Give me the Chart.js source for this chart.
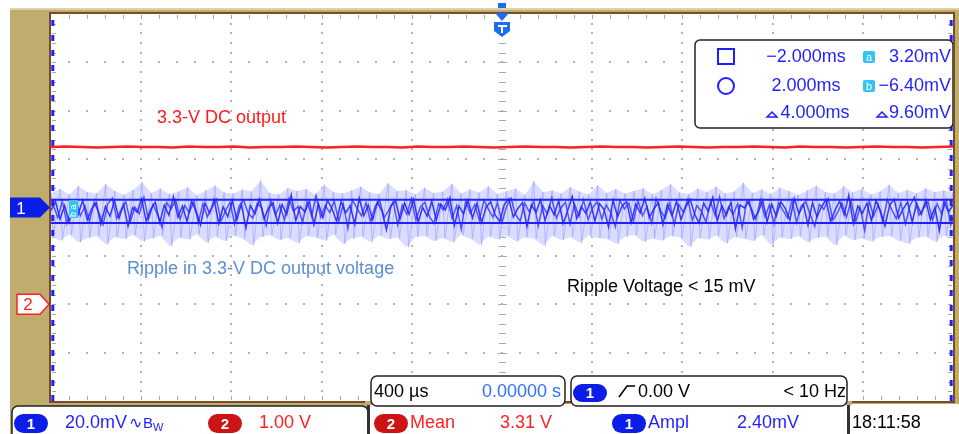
<!doctype html>
<html lang="en">
<head>
<meta charset="utf-8">
<title>Ripple in 3.3-V DC output</title>
<style>
  html, body { margin: 0; padding: 0; background: #fff; }
  #wrap { position: relative; width: 959px; height: 434px; }
</style>
</head>
<body>
<div id="wrap"><canvas id="scope"></canvas></div>
<script src="https://cdn.jsdelivr.net/npm/chart.js"></script>
<script>
// screen: 10 div x 400 us, ch1 20 mV/div, ch2 1 V/div (ground 2 div below centre)
const X_MIN = -2000, X_MAX = 2000;

// ch1 ripple, two sweeps, mV
const rippleMv = [
  -1.2, 2.4, -4.8, 0.8, -6.0, 1.6, -2.8, 3.0, -5.2, -0.4, 2.0, -6.8, 0.4, -3.6, 2.8, -4.4, 1.2, -7.6, 0.0, -2.0,
  3.6, -5.6, -0.8, 2.2, -6.2, 1.0, -3.2, 4.4, -4.0, 0.6, -5.8, 2.6, -1.6, -7.2, 1.8, -2.4, 3.2, -6.6, 0.2, -3.8,
  2.8, -5.0, 1.4, -8.4, 0.8, -2.6, 3.4, -4.6, -0.2, 2.0, -6.4, 1.2, -3.0, 5.2, -5.4, 0.4, -1.8, 2.6, -7.0, 1.6,
  -4.2, 3.0, -0.6, -5.6, 2.4, -2.2, 0.8, -6.8, 3.8, -3.4, 1.0, -5.0, 2.2, -1.4, -9.2, 0.6, 2.8, -4.8, 1.8, -2.8,
  3.4, -6.0, 0.0, -3.6, 2.6, -5.2, 1.4, -1.0, 4.0, -7.4, 0.6, -2.6, 3.0, -4.4, 1.8, -6.2, 0.2, 2.4, -3.2, -5.8,
  1.2, 3.6, -4.0, -0.4, 2.0, -7.8, 1.0, -2.0, 3.2, -5.4, 0.8, -3.0, 2.8, -6.6, -1.2, 4.6, -4.6, 0.4, -2.4, 2.2,
  -5.6, 1.6, -0.8, -8.0, 3.0, -3.8, 0.6, 2.4, -6.2, 1.4, -2.2, 3.8, -4.2, -0.6, 2.0, -7.0, 1.2, -3.4, 2.6, -5.0,
  0.2, 3.4, -2.8, -6.4, 1.8, -1.6, 4.2, -5.6, 0.8, -3.2, 2.2, -8.8, 1.0, -0.2, 2.8, -4.8, -2.0, 3.0, -6.0, 1.4,
  -3.6, 2.4, -0.4, -5.2, 3.6, -2.6, 1.2, -7.2, 2.0, -4.0, 0.4, 3.2, -5.8, -1.0, 2.6, -3.0, 5.0, -6.6, 0.6, -2.4,
  1.8, -5.4, 2.8, -1.4, -7.6, 0.8, 3.4, -4.4, -0.6, 2.2, -6.0, 1.6, -2.8, 3.0, -5.0, 0.0, -9.6, 2.4, -1.8, 1.0
];
const ripple2Mv = [
  1.0, -4.2, 2.6, -6.6, -0.2, 3.0, -3.4, 0.6, -5.8, 2.2, -1.8, -7.0, 1.4, 3.8, -4.6, -0.8, 2.4, -6.0, 0.2, -2.6,
  4.2, -5.0, 1.2, -3.0, -8.2, 2.0, -0.6, 3.2, -4.8, 0.8, -2.2, 2.6, -6.4, 1.6, -3.8, 0.0, 3.4, -5.6, -1.4, 2.2,
  -6.8, 0.6, 3.0, -2.4, -4.4, 1.8, -0.2, -7.4, 2.8, -3.2, 1.0, -5.2, 3.6, -1.6, 0.4, -6.2, 2.4, -3.6, 4.8, -4.0,
  0.8, -2.0, 2.6, -5.8, 1.4, -8.6, 3.2, -0.4, -3.4, 2.0, -6.0, 0.6, 3.0, -4.2, -1.2, 2.4, -7.2, 1.0, -2.8, 3.6,
  -5.2, 0.2, 2.2, -3.8, -6.6, 1.6, -1.0, 3.4, -4.6, 0.8, -9.0, 2.8, -2.4, 1.2, -5.4, 3.0, -0.8, -4.0, 2.0, -6.2,
  0.4, 3.8, -3.0, -5.6, 1.8, -1.8, 2.6, -7.6, 0.6, -2.6, 4.0, -4.4, -0.2, 2.2, -6.8, 1.4, -3.6, 3.2, -5.0, 0.0,
  2.4, -4.8, 1.0, -2.2, -8.0, 3.0, -0.6, 1.8, -5.6, 2.8, -3.4, 0.4, -6.4, 3.6, -1.4, -4.2, 2.0, -7.0, 1.2, -2.0,
  3.4, -5.4, 0.8, -1.6, -6.0, 2.4, -3.2, 4.4, -4.6, 0.2, -2.8, 1.6, -8.4, 2.6, -0.4, -5.0, 3.2, -3.8, 1.0, -6.6,
  2.0, -1.2, -4.4, 3.0, -6.2, 0.6, 2.4, -3.0, -7.8, 1.4, -0.8, 3.6, -5.2, -2.2, 1.8, -4.0, 2.8, -6.0, 0.2, -9.4,
  2.6, -3.6, 1.2, -5.8, 3.2, -1.0, -4.6, 2.0, -6.8, 0.8, 4.2, -3.2, -0.4, 2.4, -5.4, 1.6, -2.6, 3.0, -7.2, -1.2
];

// ch1 persistence envelope (pale fuzz), mV
const fuzzHighMv = [
  6.0, 7.6, 5.4, 8.8, 6.4, 5.8, 9.6, 6.8, 5.2, 7.2, 10.4, 6.0, 7.8, 5.6, 6.6, 8.4, 5.0, 7.0, 9.0, 6.2,
  5.8, 7.4, 6.6, 11.2, 6.0, 5.4, 8.0, 6.8, 7.6, 5.2, 9.4, 6.4, 5.8, 7.0, 8.6, 6.2, 5.6, 10.0, 6.8, 7.2,
  5.4, 8.2, 6.0, 6.6, 9.8, 5.8, 7.4, 6.2, 8.8, 5.6, 6.8, 7.8, 5.2, 10.8, 6.4, 7.0, 5.8, 8.4, 6.6, 5.4,
  9.2, 6.0, 7.6, 5.8, 6.8, 8.0, 5.4, 7.2, 9.6, 6.2, 5.6, 7.8, 6.4, 8.6, 5.8, 6.6, 10.2, 6.0, 7.4, 5.6,
  8.2, 6.8, 5.2, 7.0, 9.0, 6.4, 5.8, 8.8, 6.2, 7.6, 5.4, 6.6, 9.4, 6.0, 7.2, 5.8, 8.0, 6.4, 7.0, 6.2
];
const fuzzLowMv = [
  -12.0, -13.6, -11.2, -14.4, -12.6, -11.8, -15.2, -12.2, -13.0, -11.4, -14.0, -12.8, -11.6, -16.0, -12.4, -13.2, -11.0, -14.6, -12.0, -13.8,
  -11.6, -12.8, -15.6, -12.2, -11.4, -13.4, -12.6, -14.8, -11.8, -12.4, -13.6, -11.2, -15.0, -12.8, -12.0, -14.2, -11.6, -13.0, -12.4, -16.4,
  -12.2, -11.8, -13.8, -12.6, -14.4, -11.4, -12.8, -15.4, -12.0, -13.2, -11.6, -14.0, -12.4, -12.8, -15.8, -11.8, -13.4, -12.2, -14.6, -11.6,
  -12.6, -13.0, -15.0, -12.0, -11.4, -14.2, -12.8, -13.6, -11.8, -12.4, -16.2, -12.6, -13.2, -11.6, -14.8, -12.2, -12.8, -13.8, -11.4, -15.4,
  -12.4, -13.0, -11.8, -14.4, -12.6, -12.0, -15.6, -11.6, -13.4, -12.8, -14.0, -12.2, -11.8, -13.6, -15.0, -12.4, -12.0, -14.2, -11.6, -13.0
];

// ch2 DC output, V
const dcOutV = [
  3.25, 3.26, 3.25, 3.24, 3.25, 3.26, 3.25, 3.25, 3.24, 3.26, 3.25, 3.25, 3.26, 3.24, 3.25, 3.25, 3.26, 3.25, 3.24, 3.25,
  3.26, 3.25, 3.25, 3.24, 3.26, 3.25, 3.25, 3.26, 3.25, 3.24, 3.25, 3.26, 3.25, 3.25, 3.24, 3.25, 3.26, 3.25, 3.25, 3.24,
  3.25, 3.26, 3.25, 3.24, 3.25, 3.25, 3.26, 3.25, 3.24, 3.26, 3.25, 3.25, 3.24, 3.25, 3.26, 3.25, 3.25, 3.24, 3.25, 3.26
];

// cursors
const cursorTimesUs = [-2000, 2000];
const cursorLevelsMv = [3.2, -6.4];
const cursorRows = [
  ['\u22122.000ms', 'a', '3.20mV'],
  ['2.000ms', 'b', '\u22126.40mV'],
  ['4.000ms', '', '9.60mV']
];

const TAN = '#bfac6f', FRAME = '#7a4b27', DOT = '#b4b4b4';
const CH1 = '#1f1fff', CH2 = '#ff2020';
const UI = '"Liberation Sans", Arial, sans-serif';

function sampleTimes(n, shift) {
  const step = (X_MAX - X_MIN) / (n - 1);
  return Array.from({ length: n }, (_, i) => X_MIN + (i + (shift || 0)) * step);
}
function pts(vals, shift) {
  const ts = sampleTimes(vals.length, shift);
  return vals.map((v, i) => ({ x: ts[i], y: v }));
}
// persistence spikes: each column drawn from its high to its low extreme
function spikes(hi, lo) {
  const ts = sampleTimes(hi.length);
  const out = [];
  hi.forEach((h, i) => { out.push({ x: ts[i], y: h }); out.push({ x: ts[i] + 10, y: lo[i] }); });
  return out;
}

function rrect(ctx, x, y, w, h, r) {
  ctx.beginPath();
  ctx.moveTo(x + r, y);
  ctx.arcTo(x + w, y, x + w, y + h, r);
  ctx.arcTo(x + w, y + h, x, y + h, r);
  ctx.arcTo(x, y + h, x, y, r);
  ctx.arcTo(x, y, x + w, y, r);
  ctx.closePath();
}
function pill(ctx, x, y, w, h, fill, label) {
  rrect(ctx, x, y, w, h, h / 2);
  ctx.fillStyle = fill;
  ctx.fill();
  ctx.fillStyle = '#fff';
  ctx.font = 'bold 15px ' + UI;
  ctx.textAlign = 'center';
  ctx.fillText(label, x + w / 2, y + h - 4);
  ctx.textAlign = 'left';
}
function txt(ctx, s, x, y, color, align, size) {
  ctx.font = (size || 18) + 'px ' + UI;
  ctx.fillStyle = color;
  ctx.textAlign = align || 'left';
  ctx.fillText(s, x, y);
  ctx.textAlign = 'left';
}

const backdrop = {
  id: 'backdrop',
  beforeDraw(chart) {
    const { ctx, chartArea: a, width, height } = chart;
    ctx.save();
    ctx.fillStyle = '#fff';
    ctx.fillRect(0, 0, width, height);
    ctx.fillStyle = TAN;
    ctx.fillRect(10, 8, width - 10, height - 8);
    ctx.fillStyle = '#ddd2a6';
    ctx.fillRect(10, 8, width - 10, 2);
    ctx.fillStyle = '#fff';
    ctx.fillRect(a.left, a.top, a.right - a.left, a.bottom - a.top);
    ctx.restore();
  }
};

const graticule = {
  id: 'graticule',
  beforeDatasetsDraw(chart) {
    const { ctx, chartArea: a } = chart;
    const xs = chart.scales.x, ys = chart.scales.y;
    const R = Math.round;
    ctx.save();
    ctx.fillStyle = DOT;
    for (let t = -1600; t <= 1600; t += 400) {
      if (t === 0) continue;
      const px = R(xs.getPixelForValue(t));
      for (let v = -76; v <= 76; v += 4) ctx.fillRect(px - 1, R(ys.getPixelForValue(v)) - 1, 2, 2);
    }
    for (let v = -60; v <= 60; v += 20) {
      if (v === 0) continue;
      const py = R(ys.getPixelForValue(v));
      for (let t = -1920; t <= 1920; t += 80) ctx.fillRect(R(xs.getPixelForValue(t)) - 1, py - 1, 2, 2);
    }
    // centre cross and frame ticks
    ctx.fillStyle = '#a8a8a8';
    const cx = R(xs.getPixelForValue(0)), cy = R(ys.getPixelForValue(0));
    for (let v = -76; v <= 76; v += 4) {
      const py = R(ys.getPixelForValue(v));
      const major = v % 20 === 0;
      ctx.fillRect(cx - (major ? 4 : 3), py, major ? 9 : 7, 1);
      ctx.fillRect(a.left + 1, py, 4, 1);
      ctx.fillRect(a.right - 5, py, 4, 1);
    }
    for (let t = -1920; t <= 1920; t += 80) {
      const px = R(xs.getPixelForValue(t));
      const major = t % 400 === 0;
      ctx.fillRect(px, cy - (major ? 4 : 3), 1, major ? 9 : 7);
      ctx.fillRect(px, a.top + 1, 1, 4);
      ctx.fillRect(px, a.bottom - 5, 1, 4);
    }
    ctx.restore();
  }
};

const overlay = {
  id: 'overlay',
  afterDraw(chart) {
    const { ctx, chartArea: a, width, height } = chart;
    const xs = chart.scales.x, ys = chart.scales.y, y2 = chart.scales.y2;
    ctx.save();

    // cursor readout box
    rrect(ctx, 695, 40, 258, 88, 5);
    ctx.fillStyle = '#fff';
    ctx.fill();
    ctx.strokeStyle = '#222';
    ctx.lineWidth = 1.5;
    ctx.stroke();
    ctx.strokeStyle = CH1;
    ctx.lineWidth = 2;
    ctx.strokeRect(718, 49, 16, 15);
    ctx.beginPath();
    ctx.arc(726, 86, 8, 0, Math.PI * 2);
    ctx.stroke();
    const rowY = [62, 91, 118];
    cursorRows.forEach((r, i) => {
      txt(ctx, r[0], i === 2 ? 815 : 806, rowY[i], CH1, 'center');
      txt(ctx, r[2], 951, rowY[i], CH1, 'right');
      if (r[1]) {
        rrect(ctx, 863, rowY[i] - 11, 12, 12, 2);
        ctx.fillStyle = '#35c3f2';
        ctx.fill();
        txt(ctx, r[1], 869, rowY[i] - 1, '#fff', 'center', 11);
      }
    });
    ctx.lineWidth = 1.5;
    ctx.strokeStyle = CH1;
    [[767, 117], [877, 117]].forEach(([dx, dy]) => {
      ctx.beginPath();
      ctx.moveTo(dx, dy);
      ctx.lineTo(dx + 5, dy - 5);
      ctx.lineTo(dx + 10, dy);
      ctx.closePath();
      ctx.stroke();
    });

    // frame
    ctx.strokeStyle = FRAME;
    ctx.lineWidth = 2;
    ctx.strokeRect(a.left - 1, a.top - 1, a.right - a.left + 2, a.bottom - a.top + 2);

    // channel ground markers
    const g1 = ys.getPixelForValue(0), g2 = y2.getPixelForValue(0);
    ctx.beginPath();
    ctx.moveTo(10, g1 - 10); ctx.lineTo(40, g1 - 10); ctx.lineTo(50, g1); ctx.lineTo(40, g1 + 10); ctx.lineTo(10, g1 + 10);
    ctx.closePath();
    ctx.fillStyle = '#0c1de8';
    ctx.fill();
    txt(ctx, '1', 21, g1 + 6, '#fff', 'center', 17);
    ctx.beginPath();
    ctx.moveTo(17, g2 - 10); ctx.lineTo(40, g2 - 10); ctx.lineTo(49, g2); ctx.lineTo(40, g2 + 10); ctx.lineTo(17, g2 + 10);
    ctx.closePath();
    ctx.fillStyle = '#fff';
    ctx.fill();
    ctx.strokeStyle = CH2;
    ctx.lineWidth = 1.5;
    ctx.stroke();
    txt(ctx, '2', 28, g2 + 6, CH2, 'center', 17);

    // cursor a/b tag at left
    ctx.fillStyle = '#35c3f2';
    ctx.fillRect(69, 200, 9, 18);
    ctx.save();
    ctx.translate(77, 218);
    ctx.rotate(-Math.PI / 2);
    txt(ctx, 'b a', 1, -1, '#fff', 'left', 9);
    ctx.restore();

    // trigger marker
    const tx = xs.getPixelForValue(0);
    ctx.fillStyle = '#1f6cf0';
    ctx.fillRect(tx - 4, 3, 8, 5);
    ctx.beginPath();
    ctx.moveTo(tx - 7, 13); ctx.lineTo(tx + 7, 13); ctx.lineTo(tx, 21);
    ctx.closePath();
    ctx.fill();
    ctx.beginPath();
    ctx.moveTo(tx - 8, 22); ctx.lineTo(tx + 8, 22); ctx.lineTo(tx + 8, 31); ctx.lineTo(tx, 37); ctx.lineTo(tx - 8, 31);
    ctx.closePath();
    ctx.fill();
    ctx.fillStyle = '#fff';
    ctx.fillRect(tx - 4, 25, 9, 2);
    ctx.fillRect(tx - 1, 25, 2, 8);

    // annotations
    txt(ctx, '3.3-V DC output', 157, 123, '#ff1a1a');
    txt(ctx, 'Ripple in 3.3-V DC output voltage', 127, 274, '#5b8ed6');
    txt(ctx, 'Ripple Voltage < 15 mV', 567, 292, '#000');

    // status line
    ctx.fillStyle = '#fff';
    ctx.fillRect(369, 404, width - 369, height - 404);
    rrect(ctx, 12, 406, 356, 40, 6);
    ctx.fill();
    ctx.strokeStyle = '#222';
    ctx.lineWidth = 1.5;
    ctx.stroke();
    ctx.fillStyle = '#333';
    ctx.fillRect(367, 403, 3, 31);
    ctx.fillRect(847, 403, 3, 31);
    ctx.fillStyle = TAN;
    ctx.fillRect(365, 401, 7, 4);
    ctx.fillRect(845, 401, 7, 4);

    // timebase and trigger boxes
    [[371, 194], [571, 276]].forEach(([bx, bw]) => {
      rrect(ctx, bx, 376, bw, 30, 6);
      ctx.fillStyle = '#fff';
      ctx.fill();
      ctx.strokeStyle = '#222';
      ctx.lineWidth = 1.5;
      ctx.stroke();
    });
    txt(ctx, '400 \u00b5s', 374, 397, '#000');
    txt(ctx, '0.00000 s', 561, 397, '#2f70ff', 'right');
    pill(ctx, 573, 384, 34, 18, '#0c1de8', '1');
    ctx.strokeStyle = '#000';
    ctx.lineWidth = 1.6;
    ctx.beginPath();
    ctx.moveTo(619, 397); ctx.lineTo(627, 386); ctx.lineTo(635, 386);
    ctx.stroke();
    txt(ctx, '0.00 V', 638, 397, '#000');
    txt(ctx, '< 10 Hz', 846, 397, '#000', 'right');

    const sy = 428;
    pill(ctx, 14, 414, 34, 19, '#0c1de8', '1');
    ctx.font = '18px ' + UI;
    let cxp = 65;
    txt(ctx, '20.0mV', cxp, sy, CH1);
    cxp += ctx.measureText('20.0mV').width + 2;
    txt(ctx, '\u223f', cxp, sy, CH1, 'left', 16);
    ctx.font = '16px ' + UI;
    cxp += ctx.measureText('\u223f').width + 1;
    txt(ctx, 'B', cxp, sy, CH1, 'left', 15);
    ctx.font = '15px ' + UI;
    cxp += ctx.measureText('B').width;
    txt(ctx, 'W', cxp, sy + 3, CH1, 'left', 11);
    pill(ctx, 208, 414, 34, 19, '#cc1414', '2');
    txt(ctx, '1.00 V', 259, sy, CH2);

    pill(ctx, 374, 414, 34, 19, '#cc1414', '2');
    txt(ctx, 'Mean', 410, sy, CH2);
    txt(ctx, '3.31 V', 500, sy, CH2);
    pill(ctx, 612, 414, 34, 19, '#0c1de8', '1');
    txt(ctx, 'Ampl', 648, sy, CH1);
    txt(ctx, '2.40mV', 737, sy, CH1);
    txt(ctx, '18:11:58', 852, sy, '#000');

    ctx.restore();
  }
};

const flat = (v) => [{ x: X_MIN, y: v }, { x: X_MAX, y: v }];
const vert = (t) => [{ x: t, y: -80 }, { x: t, y: 80 }];

new Chart(document.getElementById('scope'), {
  type: 'line',
  data: {
    datasets: [
      { label: 'CH2', data: pts(dcOutV), yAxisID: 'y2', borderColor: CH2, borderWidth: 2.5, order: 0 },
      { label: 'cursor a', data: flat(cursorLevelsMv[0]), borderColor: CH1, borderWidth: 2, order: 1 },
      { label: 'cursor b', data: flat(cursorLevelsMv[1]), borderColor: CH1, borderWidth: 2, order: 1 },
      { label: 'cursor 1', data: vert(cursorTimesUs[0] + 8), borderColor: CH1, borderWidth: 3, borderDash: [6, 9], order: 1 },
      { label: 'cursor 2', data: vert(cursorTimesUs[1] - 8), borderColor: CH1, borderWidth: 3, borderDash: [6, 9], order: 1 },
      { label: 'CH1', data: pts(rippleMv), borderColor: 'rgba(35,35,255,0.9)', borderWidth: 1.5, order: 2 },
      { label: 'CH1 sweep 2', data: pts(ripple2Mv, 0.5), borderColor: 'rgba(50,50,255,0.8)', borderWidth: 1.5, order: 2 },
      { label: 'CH1 spikes', data: spikes(fuzzHighMv, fuzzLowMv), borderColor: 'rgba(150,158,255,0.6)', borderWidth: 1, order: 3 },
      { label: 'CH1 high', data: pts(fuzzHighMv), borderColor: 'rgba(0,0,0,0)', borderWidth: 0, fill: false, order: 4 },
      { label: 'CH1 low', data: pts(fuzzLowMv), borderColor: 'rgba(0,0,0,0)', borderWidth: 0, fill: '-1',
        backgroundColor: 'rgba(205,209,255,0.75)', order: 4 }
    ]
  },
  options: {
    responsive: true,
    maintainAspectRatio: false,
    devicePixelRatio: 1,
    animation: false,
    events: [],
    layout: { padding: { left: 51, top: 14, right: 6, bottom: 33 } },
    elements: { point: { radius: 0 }, line: { tension: 0 } },
    plugins: { legend: { display: false }, tooltip: { enabled: false } },
    scales: {
      x: { type: 'linear', min: X_MIN, max: X_MAX, display: false },
      y: { min: -80, max: 80, display: false },
      y2: { min: -2, max: 6, display: false }
    }
  },
  plugins: [backdrop, graticule, overlay]
});
</script>
</body>
</html>
